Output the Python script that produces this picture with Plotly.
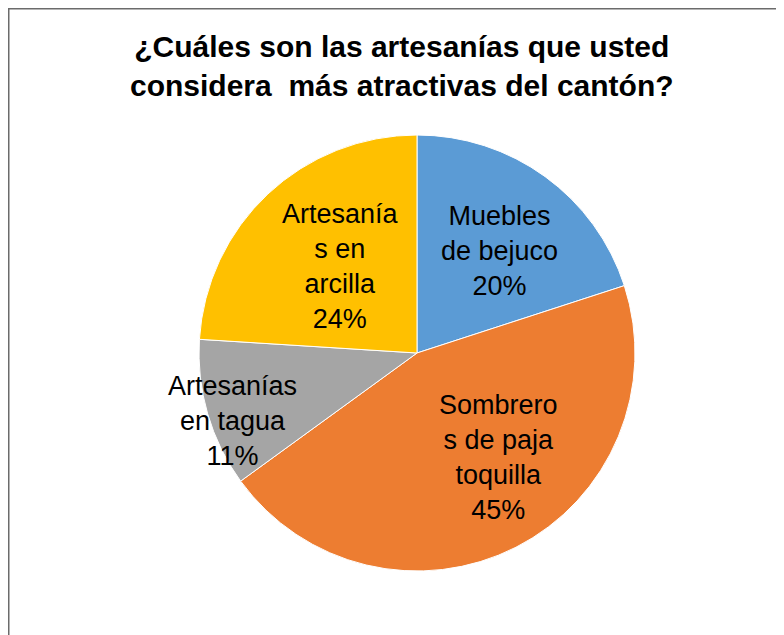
import math
import plotly.graph_objects as go

# ---- data ----
labels = ["Muebles de bejuco", "Sombreros de paja toquilla", "Artesanías en tagua", "Artesanías en arcilla"]
label_text = ["Muebles<br>de bejuco", "Sombrero<br>s de paja<br>toquilla", "Artesanías<br>en tagua", "Artesanía<br>s en<br>arcilla"]
values = [20, 45, 11, 24]
colors = ["#5B9BD5", "#ED7D31", "#A5A5A5", "#FFC000"]
title_lines = ["¿Cuáles son las artesanías que usted", "considera\u00a0\u00a0más atractivas del cantón?"]

# ---- layout geometry (pixels, figure coordinates; page body margin is 8px) ----
W, H = 784, 635
OFF = 8
cx, cy, R = 417 - OFF, 353 - OFF, 218
dom_x = [(cx - R) / W, (cx + R) / W]
dom_y = [1 - (cy + R) / H, 1 - (cy - R) / H]

# label placement: radial fraction and angular nudge (deg) per slice
label_frac = [0.60, 0.61, 0.90, 0.53]
label_nudge = [3, -11, -4, 2]

fig = go.Figure(go.Pie(
    labels=labels, values=values, sort=False, direction="clockwise", rotation=0,
    marker=dict(colors=colors, line=dict(color="white", width=1)),
    textinfo="none", hoverinfo="label+percent", showlegend=False,
    domain=dict(x=dom_x, y=dom_y),
))

total = sum(values)
annotations = []
cum = 0
for i, v in enumerate(values):
    mid = (cum + v / 2) / total * 360 + label_nudge[i]
    cum += v
    th = math.radians(mid)
    px = cx + label_frac[i] * R * math.sin(th)
    py = cy - label_frac[i] * R * math.cos(th)
    pct = round(v / total * 100)
    annotations.append(dict(
        x=px / W, y=1 - py / H, xref="paper", yref="paper",
        text=f"{label_text[i]}<br>{pct}%", showarrow=False,
        font=dict(family="Liberation Sans, Arial, sans-serif", size=27, color="black"),
        align="center", xanchor="center", yanchor="middle",
    ))

annotations.append(dict(
    x=(402 - OFF) / W, y=1 - (66 - OFF) / H, xref="paper", yref="paper",
    text="<b>" + "<br>".join(title_lines) + "</b>", showarrow=False,
    font=dict(family="Liberation Sans, Arial, sans-serif", size=30, color="black"),
    align="center", xanchor="center", yanchor="middle",
))

fig.update_layout(
    width=W, height=H,
    margin=dict(l=0, r=0, t=0, b=0),
    paper_bgcolor="white", plot_bgcolor="white",
    annotations=annotations,
    shapes=[
        dict(type="line", xref="paper", yref="paper", x0=0.75 / W, x1=0.75 / W, y0=0, y1=1,
             line=dict(color="#6b6b6b", width=1.5)),
        dict(type="line", xref="paper", yref="paper", x0=0, x1=1, y0=1 - 0.75 / H, y1=1 - 0.75 / H,
             line=dict(color="#6b6b6b", width=1.5)),
    ],
)

fig.write_html("out.html")
